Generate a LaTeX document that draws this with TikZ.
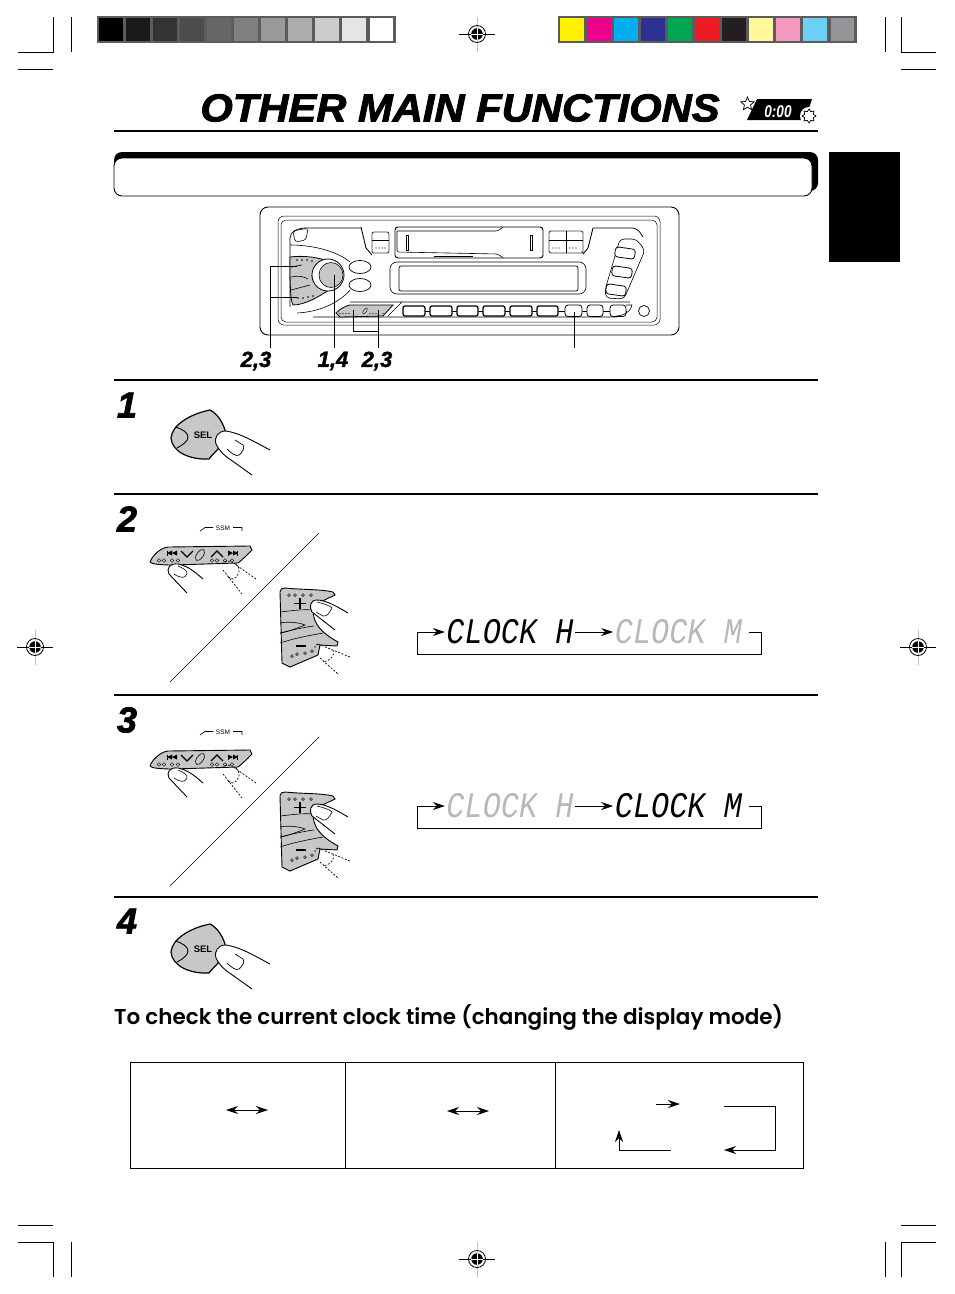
\documentclass[tikz,border=0pt]{standalone}
\usepackage{fontspec}
\usetikzlibrary{arrows.meta,positioning,shapes.geometric,calc}
\setmainfont{Liberation Sans}
\newfontfamily\titlefont[UprightFont=* Bold Italic,FakeBold=2.2,FakeStretch=1.07]{Liberation Sans}
\newfontfamily\stepfont[UprightFont=* Bold Italic,FakeBold=2]{Liberation Sans}
\newfontfamily\numfont[UprightFont=* Bold Italic,FakeBold=1.5]{Liberation Sans}
\newfontfamily\iconfont[UprightFont=* Bold Italic,FakeStretch=0.8]{Liberation Sans}
\newfontfamily\headfont[UprightFont=* SemiBold]{Poppins}
\newfontfamily\lcdfont[UprightFont=* Italic,FakeStretch=0.84]{Liberation Mono}
\definecolor{panelgray}{gray}{0.78}
\definecolor{lcdgray}{gray}{0.72}
\definecolor{barframe}{gray}{0.36}
\definecolor{barmagenta}{HTML}{EC008C}
\definecolor{barcyan}{HTML}{00AEEF}
\definecolor{barblue}{HTML}{2E3192}
\definecolor{bargreen}{HTML}{00A651}
\definecolor{barred}{HTML}{ED1C24}
\definecolor{barblack}{HTML}{231F20}
\definecolor{barlemon}{HTML}{FFF799}
\definecolor{barpink}{HTML}{F49AC1}
\definecolor{barsky}{HTML}{6DCFF6}
\definecolor{bargray}{HTML}{939598}
\tikzset{
	rule/.style={line width=1.3pt},
	crop/.style={line width=0.7pt},
	thinline/.style={line width=0.6pt},
	plate/.style={line width=0.9pt,draw=black!75,fill=white},
	finger/.style={line width=0.9pt,fill=white},
	ghost/.style={line width=0.7pt,dashed,dash pattern=on 2pt off 1.6pt},
	stepnum/.style={font=\stepfont\fontsize{36}{36}\selectfont,inner sep=0pt},
	callout/.style={font=\numfont\fontsize{22}{22}\selectfont,inner sep=0pt},
	lcd/.style={font=\lcdfont\fontsize{36}{36}\selectfont,inner sep=0pt,minimum width=130pt,minimum height=24pt},
	tip/.style={-{Stealth[length=12pt,width=8pt,inset=4pt]},line width=0.9pt},
	tips/.style={{Stealth[length=12pt,width=8pt,inset=4pt]}-{Stealth[length=12pt,width=8pt,inset=4pt]},line width=0.9pt},
	regmark/.pic={
		\draw[line width=0.8pt,black!25] (0,-17) -- (0,18);
		\draw[line width=0.7pt] (-18,0) -- (18,0);
		\draw[line width=0.8pt] (0,0) circle (8.5);
		\fill (0,0) circle (5.8);
		\draw[white,line width=0.7pt] (-6,0) -- (6,0) (0,-6) -- (0,6);
	},
	selbutton/.pic={
		\draw[line width=1.2pt,fill=panelgray] (171,438) .. controls (172,425) and (190,414) .. (210,410)
			.. controls (218,414) and (224,424) .. (226,434) .. controls (224,446) and (214,452) .. (209,459)
			.. controls (190,460) and (172,452) .. (171,438);
		\draw[line width=0.9pt] (175,427) .. controls (183,429) and (188,433) .. (188,437) .. controls (188,441) and (183,445) .. (177,448);
		\node[font=\bfseries\fontsize{9.5}{9.5}\selectfont,inner sep=0pt] (sel) at (203,435) {SEL};
		\draw[finger] (270,450) .. controls (255,442) and (240,433) .. (226,431) .. controls (218,431) and (214,437) .. (216,444)
			.. controls (220,452) and (226,457) .. (231,460) -- (252,475);
		\draw[line width=0.7pt] (227,449) .. controls (231,453) and (236,457) .. (239,455) .. controls (243,452) and (245,447) .. (243,445) -- (235,440);
	},
	seekpanel/.pic={
		\draw[line width=0.9pt,fill=panelgray] (150,562) .. controls (152,556) and (160,548) .. (168,547) -- (250,546) -- (252,550)
			.. controls (246,556) and (242,560) .. (238,563) -- (173,565) .. controls (160,565) and (151,564) .. (150,562);
		\draw[line width=1.2pt] (181,551) -- (187,557) -- (193,551) (211,557) -- (217,551) -- (223,557);
		\draw[line width=0.6pt,rotate around={55:(200,555)}] (200,555) ellipse (6.5 and 3.2);
		\draw[line width=0.9pt] (167,550.5) -- (167,555.5) (228,550.5) -- (228,555.5) (237.5,550.5) -- (237.5,555.5);
		\fill (167,553) -- (172,550.5) -- (172,555.5) -- cycle (172,553) -- (177,550.5) -- (177,555.5) -- cycle;
		\fill (228,550.5) -- (233,553) -- (228,555.5) -- cycle (233,550.5) -- (238,553) -- (233,555.5) -- cycle;
		\foreach \dotx in {159,164,172,178,212,217,225,232}
			\draw[line width=0.4pt] (\dotx,560.5) circle (1.8);
		\node[font=\fontsize{6.5}{6.5}\selectfont,inner sep=0pt] (ssm) at (223,528) {SSM};
		\draw[thinline] (200,531) -- (205,527.5) -- (213,527.5) (233,527.5) -- (242,527.5) -- (242,531);
		\draw[finger] (203,579) .. controls (195,572) and (188,566) .. (178,564) .. controls (170,563) and (166,568) .. (169,574) -- (187,593);
		\draw[thinline] (178,566) .. controls (183,568) and (188,571) .. (187,574) .. controls (185,579) and (180,578) .. (174,574);
		\draw[ghost] (256,579) -- (232,562) (223,570) -- (242,594) (222,564) .. controls (224,560) and (230,561) .. (232,562);
		\draw[ghost] (236,564) .. controls (241,568) and (240,576) .. (233,579) -- (228,577);
	},
	tunepanel/.pic={
		\draw[line width=0.9pt,fill=panelgray] (280,592) .. controls (280,589) and (282,588) .. (285,588) .. controls (305,590) and (320,589) .. (333,592)
			-- (335,595) -- (314,605) .. controls (311,618) and (316,630) .. (338,642) -- (337,646) -- (320,645) -- (318,655)
			-- (290,667) -- (282,663) -- cycle;
		\draw[thinline] (280,612) .. controls (290,611) and (302,609) .. (313,610);
		\draw[thinline] (280,623) .. controls (290,621) and (300,623) .. (305,625) .. controls (297,628) and (288,632) .. (280,633);
		\draw[thinline] (280,633) .. controls (292,630) and (305,627) .. (314,626);
		\draw[thinline] (280,643) .. controls (295,638) and (312,635) .. (323,633);
		\foreach \dotx/\doty in {289/595,295/595,303/595,311/595,292/656,297/654,305/653,312/651}
			\draw[line width=0.5pt] (\dotx,\doty) circle (1.4);
		\draw[line width=1.3pt] (294,603.5) -- (306,603.5) (300,598) -- (300,609) (296,646) -- (306,646);
		\draw[finger] (348,613) .. controls (338,607) and (326,600) .. (317,600) .. controls (310,600) and (309,607) .. (312,612) -- (335,630);
		\draw[thinline] (317,602) .. controls (322,603) and (331,606) .. (332,608) .. controls (330,612) and (327,617) .. (323,616) -- (316,612);
		\draw[ghost] (350,657) -- (318,644) (318,644) .. controls (315,645) and (314,648) .. (315,650) (320,658) -- (338,674);
		\draw[ghost] (333,650) .. controls (335,655) and (332,660) .. (323,662);
	}
}
\begin{document}
\begin{tikzpicture}[x=1pt,y=-1pt,>=stealth,line cap=butt]
	\useasboundingbox (0,0) rectangle (954,1294);

	\draw[crop] (18,52) -- (53,52) -- (53,17) (71,17) -- (71,52) (18,69) -- (53,69);
	\draw[crop] (885,17) -- (885,52) (901,17) -- (901,52) -- (936,52) (901,69) -- (936,69);
	\draw[crop] (18,1225) -- (53,1225) (18,1242) -- (53,1242) -- (53,1277) (71,1242) -- (71,1277);
	\draw[crop] (901,1225) -- (936,1225) (901,1277) -- (901,1242) -- (936,1242) (885,1242) -- (885,1277);
	\pic (reg_n) at (477,34) {regmark};
	\pic (reg_s) at (477,1259) {regmark};
	\pic (reg_w) at (35,647) {regmark};
	\pic (reg_e) at (918,647) {regmark};

	\fill[barframe] (97,16) rectangle (396,43);
	\foreach \shade [count=\i from 0] in {0,10,20,30,40,50,60,68,80,90,100}
		\fill[black!\the\numexpr100-\shade\relax] ({99+27.05*\i},18) rectangle ({122.5+27.05*\i},41);
	\fill[barframe] (558,16) rectangle (857,43);
	\foreach \swatch [count=\i from 0] in {yellow,barmagenta,barcyan,barblue,bargreen,barred,barblack,barlemon,barpink,barsky,bargray}
		\fill[\swatch] ({560+27.05*\i},18) rectangle ({583.5+27.05*\i},41);

	\node[font=\titlefont\fontsize{39}{39}\selectfont,inner sep=0pt] (title) at (460,108) {OTHER MAIN FUNCTIONS};
	\fill (757,99) -- (812,99) -- (805,120) -- (747,120) -- cycle;
	\node[font=\iconfont\fontsize{17}{17}\selectfont,text=white,inner sep=0pt] (clock_icon) at (778,112) {0:00};
	\node[star,star points=5,star point ratio=2.2,draw,fill=white,line width=0.7pt,inner sep=0pt,minimum size=14pt] (star_icon) at (747.5,104) {};
	\fill[white] (809,116) circle (9);
	\node[star,star points=8,star point ratio=1.5,draw,fill=white,line width=0.7pt,inner sep=0pt,minimum size=14pt] (sun_icon) at (809,116) {};
	\draw[rule] (114,131) -- (818,131);

	\fill (829,152) rectangle (900,262);
	\fill[rounded corners=8pt] (114,152) rectangle (818,191);
	\draw[line width=0.9pt,fill=white,rounded corners=8pt] (114,158) rectangle (812,196);

	\draw[line width=0.9pt,rounded corners=8pt] (260,207) rectangle (679,335);
	\draw[line width=0.5pt,rounded corners=6pt] (278,216) rectangle (660,325);
	\draw[line width=0.5pt,rounded corners=5pt] (281,220) rectangle (657,322);
	\draw[line width=0.7pt,rounded corners=5pt] (290,307) -- (290,233) -- (300,228) -- (361,228) (593,228) -- (637,228) -- (643,237);
	\draw[thinline,rounded corners=3pt] (293,231) -- (308,228) -- (306,240) -- (295,242) -- cycle;
	\draw[line width=0.9pt] (361,227) -- (366,248) -- (372,255) (593,228) -- (588,248) -- (583,254);
	\draw[plate,rounded corners=2pt] (372,232) rectangle (389,253);
	\draw[plate,rounded corners=2pt] (549,231) rectangle (583,253);
	\draw[thinline] (566,231) -- (566,253) (372,240) -- (389,240) (549,240) -- (583,240);
	\foreach \dotx in {376,379,382,385,553,556,559,570,573,576}
		\fill (\dotx,248) circle (0.7);
	\draw[line width=0.9pt,rounded corners=3pt] (395,227) -- (543,227) -- (543,258) -- (395,258) -- cycle;
	\draw[thinline,rounded corners=2pt] (397,231) -- (498,231) -- (503,227) (397,231) -- (397,252) -- (498,254) -- (503,258);
	\draw[line width=0.5pt] (406,235) rectangle (408,250) (530,235) rectangle (532,250);
	\draw[line width=0.7pt] (434,256) -- (473,256);
	\draw[line width=0.6pt,rounded corners=7pt] (390,262) rectangle (586,294);
	\draw[line width=0.7pt,rounded corners=2pt] (399,266) rectangle (578,291);

	\draw[thinline] (290,245) .. controls (315,245) and (338,252) .. (350,262) (297,313) .. controls (320,312) and (340,302) .. (350,290);
	\draw[line width=0.8pt,fill=panelgray] (290,257) .. controls (305,255) and (320,258) .. (328,261) .. controls (318,265) and (312,270) .. (312,276)
		.. controls (312,282) and (318,287) .. (329,290) .. controls (320,296) and (305,305) .. (293,305) .. controls (290,300) and (290,280) .. (290,257);
	\draw[thinline] (291,267) -- (302,265) (291,277) .. controls (298,275) and (305,277) .. (308,279) (291,290) -- (310,285);
	\foreach \dotx/\doty in {297/260,302/260,307/260,312/261,298/298,303/298,308/297,313/296}
		\fill (\dotx,\doty) circle (0.8);
	\draw[line width=0.8pt,fill=white] (328,275) ellipse (16 and 16);
	\draw[line width=0.6pt,fill=panelgray] (331,275) ellipse (12 and 12.5);
	\draw[line width=0.7pt] (360,267) ellipse (11 and 6.5) (360,285) ellipse (11 and 6.5);

	\draw[thinline] (350,302) -- (630,302) (313,317) -- (617,317) (388,316) -- (402,302);
	\draw[line width=0.8pt,fill=panelgray] (336,313) .. controls (340,309) and (345,306) .. (350,305) -- (393,305) -- (383,316) -- (340,317) -- cycle;
	\draw[line width=0.4pt,rotate around={55:(365,311)}] (365,311) ellipse (3.5 and 1.5);
	\foreach \dotx in {340,343,346,349,370,373,376,383}
		\fill (\dotx,313.5) circle (0.6);
	\draw[line width=0.7pt] (403,311) -- (627,311);
	\foreach \keyx/\keyw in {403/22,430/22,457/21,483/22,510/22,537/21}
		\draw[line width=1.2pt,fill=white,rounded corners=2pt] (\keyx,306) rectangle ++(\keyw,10);
	\foreach \keyx/\keyw in {565/17,587/16,610/16}
		\draw[line width=0.8pt,fill=white,rounded corners=3pt] (\keyx,305) rectangle ++(\keyw,11.5);
	\draw[thinline] (626,305) -- (632,305) .. controls (632,310) and (624,316) .. (616,316);
	\draw[line width=0.7pt] (644,311) circle (5.5);

	\draw[thinline,rounded corners=4pt] (620,239) -- (636,239) -- (645,250) -- (624,299) -- (606,298) -- (605,290) -- cycle;
	\foreach \keyx/\keyy in {625/253,622/272,616/290}
		\draw[line width=0.8pt,fill=white,rounded corners=3pt,rotate around={-8:(\keyx,\keyy)}] (\keyx-10,\keyy-5) rectangle (\keyx+10,\keyy+5);

	\node[callout] (lab_a) at (256,361) {2,3};
	\node[callout] (lab_b) at (333,361) {1,4};
	\node[callout] (lab_c) at (377,361) {2,3};
	\coordinate (end_up) at (297,266);
	\coordinate (end_down) at (297,297);
	\coordinate (end_knob) at (334,275);
	\coordinate (end_seek) at (353,310);
	\coordinate (end_next) at (378,310);
	\coordinate (end_key) at (574,312);
	\coordinate (foot_key) at (574,348);
	\draw[thinline] (end_up) -- (270,266) -- (270,348) (end_down) -- (270,297);
	\draw[thinline] (end_knob) -- (334,348);
	\draw[thinline] (end_next) -- (378,348) (end_seek) -- (353,331) -- (378,331);
	\draw[thinline] (end_key) -- (foot_key);

	\draw[rule] (114,380) -- (818,380);
	\draw[rule] (114,494) -- (818,494);
	\draw[rule] (114,695) -- (818,695);
	\draw[rule] (114,897) -- (818,897);
	\node[stepnum] (step_1) at (127,405) {1};
	\node[stepnum] (step_2) at (127,519) {2};
	\node[stepnum] (step_3) at (127,720) {3};
	\node[stepnum] (step_4) at (127,921) {4};

	\pic (sel_a) at (0,0) {selbutton};
	\pic (sel_b) at (0,514) {selbutton};
	\pic (seek_a) at (0,0) {seekpanel};
	\pic (seek_b) at (0,204) {seekpanel};
	\pic (tune_a) at (0,0) {tunepanel};
	\pic (tune_b) at (0,204) {tunepanel};
	\draw[line width=0.6pt] (319,533) -- (170,682);
	\draw[line width=0.6pt] (319,737) -- (170,886);

	\node[lcd] (hour_a) at (510,632) {CLOCK H};
	\node[lcd,text=lcdgray,right=38pt of hour_a] (min_a) {CLOCK M};
	\coordinate (turn_a) at (761,632);
	\coordinate (back_a) at (417,654);
	\draw[tip] (hour_a) -- (min_a);
	\draw[thinline,tip] (min_a.east) ++(5,0) -- (turn_a) |- (back_a) |- (hour_a.west);
	\node[lcd,text=lcdgray] (hour_b) at (510,806) {CLOCK H};
	\node[lcd,right=38pt of hour_b] (min_b) {CLOCK M};
	\coordinate (turn_b) at (761,806);
	\coordinate (back_b) at (417,828);
	\draw[tip] (hour_b) -- (min_b);
	\draw[thinline,tip] (min_b.east) ++(5,0) -- (turn_b) |- (back_b) |- (hour_b.west);

	\node[font=\headfont\fontsize{21.5}{21.5}\selectfont,anchor=west,inner sep=0pt] (check_head) at (114,1017) {To check the current clock time (changing the display mode)};

	\draw[line width=0.9pt] (130,1062) rectangle (803,1168);
	\draw[line width=0.9pt] (345,1062) -- (345,1168) (555,1062) -- (555,1168);
	\coordinate (one_l) at (226,1110);
	\coordinate (one_r) at (268,1110);
	\coordinate (two_l) at (447,1111);
	\coordinate (two_r) at (489,1111);
	\coordinate (three_a) at (656,1104);
	\coordinate (three_b) at (680,1104);
	\coordinate (three_c) at (724,1106);
	\coordinate (three_d) at (724,1150);
	\coordinate (three_e) at (671,1150);
	\coordinate (three_f) at (619,1130);
	\draw[tips] (one_l) -- (one_r);
	\draw[tips] (two_l) -- (two_r);
	\draw[tip] (three_a) -- (three_b);
	\draw[tip] (three_c) -- (775,1106) -- (775,1150) -- (three_d);
	\draw[tip] (three_e) -- (619,1150) -- (three_f);
\end{tikzpicture}
\end{document}
